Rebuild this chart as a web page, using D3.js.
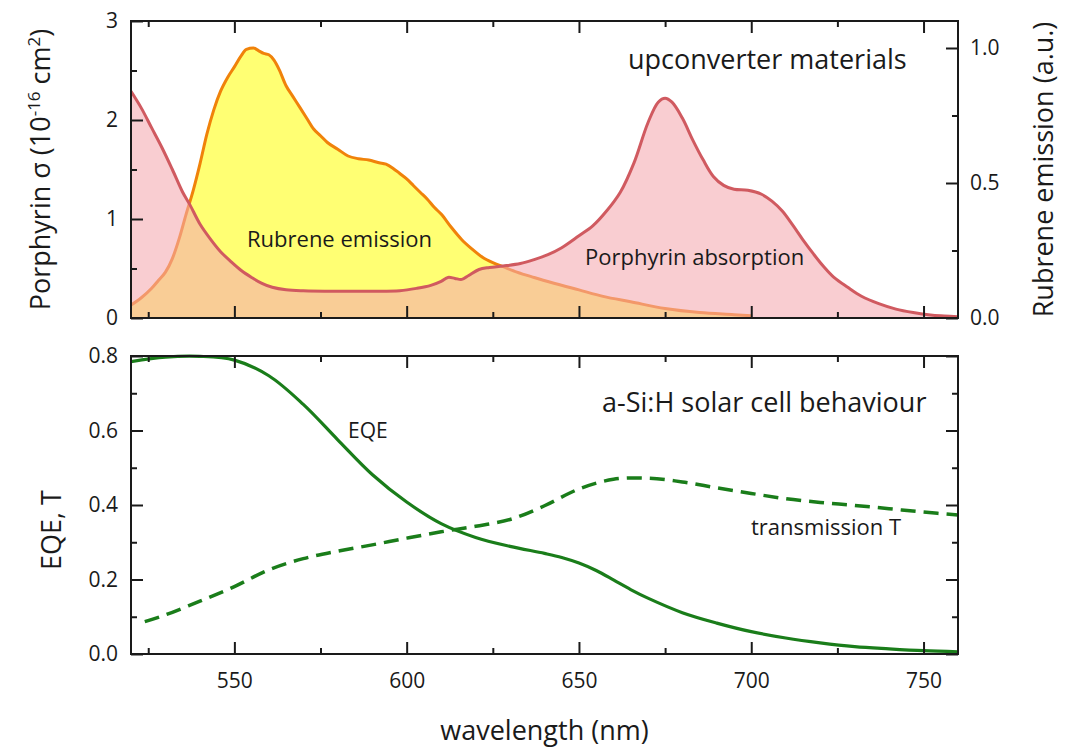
<!DOCTYPE html>
<html>
<head>
<meta charset="utf-8">
<script src="https://cdn.jsdelivr.net/npm/d3@7/dist/d3.min.js"></script>
<style>
  html, body { margin: 0; padding: 0; background: #fff; }
  svg { display: block; font-family: "Open Sans", "DejaVu Sans", sans-serif; }
</style>
</head>
<body>
<svg id="chart" width="1068" height="749"></svg>
<script>
// ---- data -------------------------------------------------------------
// Porphyrin absorption cross-section (10^-16 cm^2) vs wavelength (nm)
const porphyrinWl = [520,523,526,529,532,535,537,540,543,546,549,552,555,558,561,565,570,580,590,598,603,607,610,612,614,616,618,621,624,628,633,637,641,645,650,654,658,662,666,670,673,675,677,680,683,686,689,692,695,699,703,706,709,712,715,718,721,724,728,732,737,742,747,752,756,760];
const porphyrinSigma = [2.29,2.12,1.92,1.72,1.50,1.27,1.15,0.95,0.80,0.67,0.57,0.48,0.41,0.35,0.31,0.285,0.275,0.27,0.27,0.275,0.30,0.33,0.37,0.41,0.40,0.39,0.43,0.49,0.51,0.525,0.55,0.59,0.64,0.71,0.83,0.93,1.08,1.27,1.57,1.97,2.18,2.22,2.18,2.02,1.80,1.60,1.43,1.34,1.30,1.29,1.25,1.18,1.08,0.94,0.79,0.65,0.52,0.41,0.31,0.22,0.145,0.09,0.055,0.03,0.02,0.012];

// Rubrene emission (a.u.) vs wavelength (nm)
const rubreneWl = [520,523,526,528,530,532,534,536,538,540,542,544,546,548,550,552,553.5,555.5,557,558.5,560,561.5,563,565,567,569,571,573,575,577,580,583,586,589,592,594,596,598,600,602,604,606,608,610,613,616,619,622,625,628,632,637,643,650,657,665,675,685,695,700];
const rubreneEmission = [0.048,0.075,0.11,0.14,0.17,0.22,0.295,0.385,0.47,0.57,0.68,0.77,0.84,0.89,0.93,0.972,0.995,1.0,0.99,0.98,0.975,0.955,0.92,0.86,0.82,0.78,0.74,0.70,0.675,0.65,0.625,0.60,0.59,0.585,0.575,0.57,0.555,0.535,0.515,0.49,0.465,0.44,0.41,0.385,0.335,0.29,0.255,0.225,0.205,0.19,0.17,0.15,0.128,0.104,0.08,0.06,0.035,0.02,0.012,0.008];

// a-Si:H cell external quantum efficiency
const eqeWl = [520,530,540,550,560,570,580,590,600,610,620,630,640,645,650,655,660,665,670,680,690,700,710,720,730,740,750,760];
const eqeValue = [0.785,0.797,0.799,0.789,0.747,0.670,0.575,0.482,0.408,0.350,0.313,0.289,0.270,0.259,0.244,0.224,0.199,0.173,0.150,0.111,0.083,0.060,0.043,0.030,0.020,0.014,0.009,0.006];

// a-Si:H cell transmission
const transWl = [524,530,540,550,560,570,580,590,600,610,620,630,640,650,660,670,680,690,700,710,720,730,740,750,760];
const transValue = [0.087,0.105,0.142,0.181,0.226,0.256,0.276,0.293,0.311,0.328,0.343,0.361,0.398,0.443,0.469,0.472,0.462,0.446,0.431,0.417,0.407,0.399,0.390,0.381,0.373];

// ticks
const xMajorTicks = [550,600,650,700,750];
const xMinorTicks = [525,575,625,675,725];
const sigmaMajorTicks = [0,1,2,3];
const sigmaMinorTicks = [0.5,1.5,2.5];
const emissionMajorTicks = [0,0.5,1.0];
const emissionMinorTicks = [0.25,0.75];
const eqeMajorTicks = [0,0.2,0.4,0.6,0.8];
const eqeMinorTicks = [0.1,0.3,0.5,0.7];

// ---- layout -----------------------------------------------------------
const svg = d3.select("#chart");
const left = 131, right = 958;
const top1 = 21, bottom1 = 318;
const top2 = 356, bottom2 = 654;
const ink = "#1a1a1a";

const x = d3.scaleLinear().domain([520, 760]).range([left, right]);
const ySigma = d3.scaleLinear().domain([0, 3]).range([bottom1, top1]);
const yEmission = d3.scaleLinear().domain([0, 1.1]).range([bottom1, top1]);
const yEqe = d3.scaleLinear().domain([0, 0.8]).range([bottom2, top2]);

const zip = (a, b) => a.map((v, i) => [v, b[i]]);
const smooth = d3.curveCatmullRom.alpha(0.5);

// clip paths for each panel
const defs = svg.append("defs");
defs.append("clipPath").attr("id", "clipTop")
  .append("rect").attr("x", left).attr("y", top1).attr("width", right - left).attr("height", bottom1 - top1);
defs.append("clipPath").attr("id", "clipBot")
  .append("rect").attr("x", left).attr("y", top2 - 4).attr("width", right - left).attr("height", bottom2 - top2 + 4);

// ---- upper panel: upconverter materials --------------------------------
const gTop = svg.append("g").attr("clip-path", "url(#clipTop)");

const rubreneData = zip(rubreneWl, rubreneEmission);
const porphData = zip(porphyrinWl, porphyrinSigma);

gTop.append("path")
  .datum(rubreneData)
  .attr("fill", "#ffff73")
  .attr("d", d3.area().x(d => x(d[0])).y0(yEmission(0)).y1(d => yEmission(d[1])).curve(d3.curveMonotoneX));
gTop.append("path")
  .datum(rubreneData)
  .attr("fill", "none").attr("stroke", "#f0820a").attr("stroke-width", 3).attr("stroke-linejoin", "round")
  .attr("d", d3.line().x(d => x(d[0])).y(d => yEmission(d[1])).curve(d3.curveMonotoneX));

gTop.append("path")
  .datum(porphData)
  .attr("fill", "rgb(245,169,176)").attr("fill-opacity", 0.58)
  .attr("d", d3.area().x(d => x(d[0])).y0(ySigma(0)).y1(d => ySigma(d[1])).curve(smooth));
gTop.append("path")
  .datum(porphData)
  .attr("fill", "none").attr("stroke", "#d05a60").attr("stroke-width", 3).attr("stroke-linejoin", "round")
  .attr("d", d3.line().x(d => x(d[0])).y(d => ySigma(d[1])).curve(smooth));

// ---- lower panel: a-Si:H solar cell ------------------------------------
const gBot = svg.append("g").attr("clip-path", "url(#clipBot)");
const green = "#1a7d1a";

gBot.append("path")
  .datum(zip(eqeWl, eqeValue))
  .attr("fill", "none").attr("stroke", green).attr("stroke-width", 3.2)
  .attr("d", d3.line().x(d => x(d[0])).y(d => yEqe(d[1])).curve(smooth));
gBot.append("path")
  .datum(zip(transWl, transValue))
  .attr("fill", "none").attr("stroke", green).attr("stroke-width", 3.5)
  .attr("stroke-dasharray", "15,8")
  .attr("d", d3.line().x(d => x(d[0])).y(d => yEqe(d[1])).curve(smooth));

// ---- axes ---------------------------------------------------------------
function styleAxis(g) {
  g.select(".domain").remove();
  g.selectAll(".tick line").attr("stroke", ink).attr("stroke-width", 2);
  g.selectAll(".tick text").attr("fill", ink).style("font-size", "21px")
    .style("font-family", '"Open Sans", sans-serif');
}
function addAxis(axis, tx, ty) {
  return svg.append("g").attr("transform", `translate(${tx},${ty})`).call(axis).call(styleAxis);
}

const MAJ = 12, MIN = 6;

// x axes (ticks inward on both panels, top and bottom edges)
[[bottom1, false], [top1, false], [top2, false], [bottom2, true]].forEach(([yy, labels]) => {
  const isBottom = (yy === bottom1 || yy === bottom2);
  const mk = isBottom ? d3.axisBottom : d3.axisTop;
  addAxis(mk(x).tickValues(xMinorTicks).tickSize(-MIN).tickFormat(""), 0, yy);
  const ax = addAxis(mk(x).tickValues(xMajorTicks).tickSize(-MAJ).tickPadding(isBottom ? 15 : 0)
    .tickFormat(labels ? d3.format("d") : ""), 0, yy);
  if (labels) ax.selectAll(".tick text").attr("y", 34).attr("dy", 0);
});

// upper panel left (sigma) and right (emission)
addAxis(d3.axisLeft(ySigma).tickValues(sigmaMinorTicks).tickSize(-MIN).tickFormat(""), left, 0);
addAxis(d3.axisLeft(ySigma).tickValues(sigmaMajorTicks).tickSize(-MAJ).tickPadding(13).tickFormat(d3.format("d")), left, 0);
addAxis(d3.axisRight(yEmission).tickValues(emissionMinorTicks).tickSize(-MIN).tickFormat(""), right, 0);
addAxis(d3.axisRight(yEmission).tickValues(emissionMajorTicks).tickSize(-MAJ).tickPadding(12).tickFormat(d3.format(".1f")), right, 0);

// lower panel left and right
addAxis(d3.axisLeft(yEqe).tickValues(eqeMinorTicks).tickSize(-MIN).tickFormat(""), left, 0);
addAxis(d3.axisLeft(yEqe).tickValues(eqeMajorTicks).tickSize(-MAJ).tickPadding(13).tickFormat(d3.format(".1f")), left, 0);
addAxis(d3.axisRight(yEqe).tickValues(eqeMinorTicks).tickSize(-MIN).tickFormat(""), right, 0);
addAxis(d3.axisRight(yEqe).tickValues(eqeMajorTicks).tickSize(-MAJ).tickFormat(""), right, 0);

// panel frames
[[top1, bottom1], [top2, bottom2]].forEach(([t, b]) => {
  svg.append("rect").attr("x", left).attr("y", t).attr("width", right - left).attr("height", b - t)
    .attr("fill", "none").attr("stroke", ink).attr("stroke-width", 2);
});

// ---- titles and labels ----------------------------------------------------
const title = svg.append("g").attr("fill", ink).style("font-size", "27px");

const ylab = title.append("text").attr("text-anchor", "middle")
  .attr("transform", `translate(50,${(top1 + bottom1) / 2}) rotate(-90)`);
ylab.append("tspan").text("Porphyrin σ (10");
ylab.append("tspan").attr("dy", -10).style("font-size", "17px").text("-16");
ylab.append("tspan").attr("dy", 10).text(" cm");
ylab.append("tspan").attr("dy", -10).style("font-size", "17px").text("2");
ylab.append("tspan").attr("dy", 10).text(")");

title.append("text").attr("text-anchor", "middle")
  .attr("transform", `translate(1053,${(top1 + bottom1) / 2}) rotate(-90)`)
  .text("Rubrene emission (a.u.)");

title.append("text").attr("text-anchor", "middle")
  .attr("transform", "translate(61,530) rotate(-90)")
  .text("EQE, T");

title.append("text").attr("text-anchor", "middle")
  .attr("x", (left + right) / 2).attr("y", 740)
  .text("wavelength (nm)");

title.append("text").attr("x", 628).attr("y", 69).text("upconverter materials");
title.append("text").attr("x", 602).attr("y", 412).text("a-Si:H solar cell behaviour");

const lab = svg.append("g").attr("fill", ink).style("font-size", "22px");
lab.append("text").attr("x", 247).attr("y", 247).text("Rubrene emission");
lab.append("text").attr("x", 585).attr("y", 265).text("Porphyrin absorption");
lab.append("text").attr("x", 348).attr("y", 438).style("font-size", "21px").text("EQE");
lab.append("text").attr("x", 751).attr("y", 535).text("transmission T");
</script>
</body>
</html>
